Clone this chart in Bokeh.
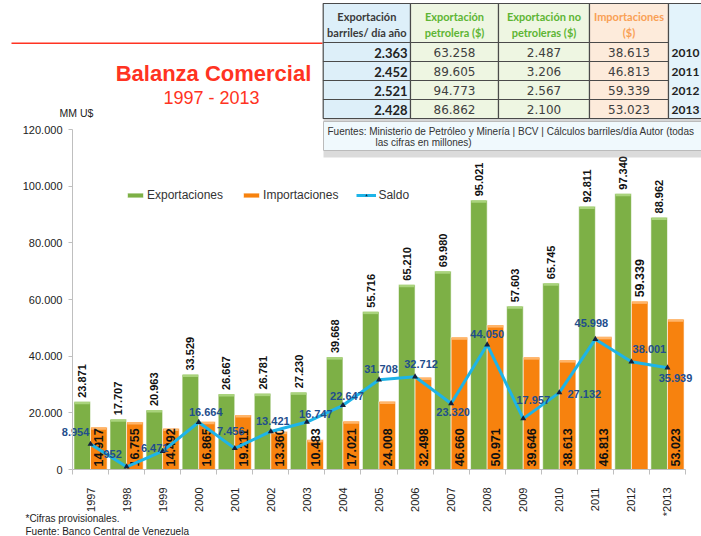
import math
from bokeh.plotting import figure
from bokeh.models import (ColumnDataSource, Label, BoxAnnotation, FixedTicker,
                          Legend, LegendItem)
from bokeh.core.properties import value
from bokeh.transform import dodge
from bokeh.embed import file_html
from bokeh.resources import INLINE

# ---------------- data ----------------
years = ["1997", "1998", "1999", "2000", "2001", "2002", "2003", "2004", "2005",
         "2006", "2007", "2008", "2009", "2010", "2011", "2012", "*2013"]
exportaciones = [23871, 17707, 20963, 33529, 26667, 26781, 27230, 39668, 55716,
                 65210, 69980, 95021, 57603, 65745, 92811, 97340, 88962]
importaciones = [14917, 16755, 14492, 16865, 19211, 13360, 10483, 17021, 24008,
                 32498, 46660, 50971, 39646, 38613, 46813, 59339, 53023]
saldo = [8954, 952, 6471, 16664, 7456, 13421, 16747, 22647, 31708,
         32712, 23320, 44050, 17957, 27132, 45998, 38001, 35939]
y_ticks = [0, 20000, 40000, 60000, 80000, 100000, 120000]

tabla_encabezados = [("Exportación", "barriles/ día año"),
                     ("Exportación", "petrolera ($)"),
                     ("Exportación no", "petroleras ($)"),
                     ("Importaciones", "($)")]
tabla_anios = ["2010", "2011", "2012", "2013"]
tabla_barriles = ["2.363", "2.452", "2.521", "2.428"]
tabla_petrolera = ["63.258", "89.605", "94.773", "86.862"]
tabla_no_petrolera = ["2.487", "3.206", "2.567", "2.100"]
tabla_importaciones = ["38.613", "46.813", "59.339", "53.023"]

# ---------------- styles / layout ----------------
sal_dx = [-15, -14, -8, 7, -4, 2, 9, 4, 2, 6, 2, 0, 10, 25, -4, 18, 8]
sal_dy = [-12, -13, -3, -10, -17, -10, -8, -9, -11, -13, 9, -11, -19, 1, -16, -13, 10]
imp_label_above = [False] * 15 + [True, False]

GREEN = "#7DB046"
GREEN_CAP = "#A9D37C"
ORANGE = "#F7820E"
ORANGE_CAP = "#FFB56A"
CYAN = "#1DB4E8"
NAVY = "#1F4E8C"
RED = "#FF3322"
FONT = "Liberation Sans"

W, H = 701, 536
# pixel geometry of the plotting area inside the canvas
AX_LEFT, AX_RIGHT, AX_BOTTOM, AX_TOP = 72, 685, 469, 129


def fmt(v):
    return f"{v:,}".replace(",", ".")


n = len(years)
xs = list(range(n))
x0, x1 = -0.5, n - 0.5
y0, y1 = y_ticks[0], y_ticks[-1]
ppx = (AX_RIGHT - AX_LEFT) / (x1 - x0)
ppy = (AX_BOTTOM - AX_TOP) / (y1 - y0)
x_range = (x0 - AX_LEFT / ppx, x1 + (W - AX_RIGHT) / ppx)
y_range = (y0 - (H - AX_BOTTOM) / ppy, y1 + AX_TOP / ppy)

src = ColumnDataSource(dict(
    x=xs,
    exp=exportaciones,
    imp=importaciones,
    sal=saldo,
    exp_cap=[v - 2.5 / ppy for v in exportaciones],
    imp_cap=[v - 2.5 / ppy for v in importaciones],
    exp_lbl=[fmt(v) for v in exportaciones],
    imp_lbl=[fmt(v) for v in importaciones],
    imp_lbl_y=[v if a else 0 for v, a in zip(importaciones, imp_label_above)],
    imp_off=[-4 if a else -3 for a in imp_label_above],
    sal_lbl=[fmt(v) for v in saldo],
    sdx=sal_dx,
    sdy=sal_dy,
))

p = figure(width=W, height=H, x_range=x_range, y_range=y_range,
           output_backend="svg", toolbar_location=None,
           min_border=0, min_border_left=0, min_border_right=0,
           min_border_top=0, min_border_bottom=0)
p.outline_line_color = None
p.xgrid.visible = False
p.ygrid.visible = False
p.background_fill_color = "white"
p.border_fill_color = "white"

# axes (drawn at fixed data locations inside the canvas)
yax = p.yaxis[0]
yax.fixed_location = x0
yax.bounds = (y0, y1)
yax.ticker = FixedTicker(ticks=y_ticks, minor_ticks=[])
yax.major_label_overrides = {t: fmt(t) for t in y_ticks}
yax.axis_line_color = "#BFBFBF"
yax.major_tick_line_color = "#BFBFBF"
yax.major_tick_out = 4
yax.major_tick_in = 0
yax.minor_tick_line_color = None
yax.major_label_standoff = 6
yax.major_label_text_font = FONT
yax.major_label_text_font_size = "11px"
yax.major_label_text_color = "#222222"

xax = p.xaxis[0]
xax.fixed_location = y0
xax.bounds = (x0, x1)
xax.ticker = FixedTicker(ticks=xs, minor_ticks=[i - 0.5 for i in range(n + 1)])
xax.major_label_overrides = {i: years[i] for i in xs}
xax.major_label_orientation = math.pi / 2
xax.axis_line_color = "#BFBFBF"
xax.major_tick_line_color = None
xax.major_tick_out = 0
xax.major_tick_in = 0
xax.minor_tick_line_color = "#BFBFBF"
xax.minor_tick_out = 5
xax.minor_tick_in = 0
xax.major_label_standoff = 13
xax.major_label_text_font = FONT
xax.major_label_text_font_size = "11px"
xax.major_label_text_color = "#222222"

# bars
gx = dodge("x", -0.23, range=p.x_range)
ox = dodge("x", 0.23, range=p.x_range)
r_exp = p.vbar(x=gx, top="exp", width=0.46, source=src, fill_color=GREEN,
               line_color="white", line_width=0.6)
p.vbar(x=gx, top="exp", bottom="exp_cap", width=0.42, source=src,
       fill_color=GREEN_CAP, line_color=None)
r_imp = p.vbar(x=ox, top="imp", width=0.46, source=src, fill_color=ORANGE,
               line_color="white", line_width=0.6)
p.vbar(x=ox, top="imp", bottom="imp_cap", width=0.42, source=src,
       fill_color=ORANGE_CAP, line_color=None)

# import labels
p.text(x=ox, y="imp_lbl_y", text="imp_lbl", source=src, angle=math.pi / 2,
       y_offset="imp_off", text_align="left", text_baseline="middle",
       text_font=value(FONT), text_font_style="bold", text_font_size="12.5px",
       text_color="#111111")

# saldo line
r_line = p.line(x="x", y="sal", source=src, line_color=CYAN, line_width=3)
r_mark = p.scatter(x="x", y="sal", source=src, marker="triangle", size=6,
                   fill_color="#14213D", line_color=None)
p.text(x="x", y="sal", text="sal_lbl", source=src, x_offset="sdx",
       y_offset="sdy", text_align="center", text_baseline="middle",
       text_font=value(FONT), text_font_style="bold", text_font_size="11px",
       text_color=NAVY)

# export labels
p.text(x=gx, y="exp", text="exp_lbl", source=src, angle=math.pi / 2,
       y_offset=-4, text_align="left", text_baseline="middle",
       text_font=value(FONT), text_font_style="bold", text_font_size="11px",
       text_color="#111111")

# legend
legend = Legend(items=[
    LegendItem(label="Exportaciones", renderers=[r_exp]),
    LegendItem(label="Importaciones", renderers=[r_imp]),
    LegendItem(label="Saldo", renderers=[r_line, r_mark]),
], orientation="horizontal", location=(125, H - 202), padding=0, margin=0,
    spacing=18, label_standoff=2, glyph_width=20, glyph_height=6,
    label_height=14, border_line_color=None, background_fill_alpha=0,
    label_text_font=FONT, label_text_font_size="12px",
    label_text_color="#333333")
p.add_layout(legend)


# ---------------- page decorations (screen units; frame == canvas) -------
def sx(px):
    return px


def sy(py):
    return H - py


def box(l, r, t, b, fill, line=None, lw=1, alpha=1.0):
    p.add_layout(BoxAnnotation(left=sx(l), right=sx(r), top=sy(t), bottom=sy(b),
                               left_units="screen", right_units="screen",
                               top_units="screen", bottom_units="screen",
                               fill_color=fill, fill_alpha=alpha,
                               line_color=line, line_width=lw,
                               line_alpha=1.0 if line else 0))


def label(px, py, text, size, color="#222222", font=FONT, style="normal",
          align="left", baseline="middle"):
    p.add_layout(Label(x=sx(px), y=sy(py), x_units="screen", y_units="screen",
                       text=text, text_font=font, text_font_size=size,
                       text_font_style=style, text_color=color,
                       text_align=align, text_baseline=baseline))


# red rule and title
box(11, 322, 42, 43.5, RED)
label(213, 73, "Balanza Comercial", "22px", RED, style="bold", align="center",
      baseline="alphabetic")
label(211, 97, "1997 - 2013", "18px", RED, align="center", baseline="alphabetic")
label(59, 112, "MM U$", "10.5px", "#222222")

# table
col_x = [322.7, 410, 498, 589, 668, 720]
row_y = [3, 42, 61, 80, 99, 118]
col_fill = ["#DDEFF9", "#EEF6E2", "#EEF6E2", "#FDEBDB"]
box(323, 720, 118, 122, "#888888", alpha=0.35)
for c in range(4):
    for r in range(5):
        box(col_x[c], col_x[c + 1], row_y[r], row_y[r + 1], col_fill[c],
            line="#4A4A4A", lw=1.2)
box(col_x[4], col_x[5], row_y[0], row_y[5], "#E3F3FB", line="#4A4A4A", lw=1.2)

head_colors = ["#3A3A3A", "#5DB534", "#5DB534", "#F9A055"]
for c, (l1, l2) in enumerate(tabla_encabezados):
    cx = (col_x[c] + col_x[c + 1]) / 2
    label(cx, 16, l1, "11px", head_colors[c], font="Lato", style="bold",
          align="center")
    label(cx, 32, l2, "11px", head_colors[c], font="Lato", style="bold",
          align="center")

row_c = [(row_y[i] + row_y[i + 1]) / 2 + 0.5 for i in range(1, 5)]
for i in range(4):
    label(col_x[1] - 3, row_c[i], tabla_barriles[i], "13px", "#222222",
          font="Lato", style="bold", align="right")
    for c, vals in zip([1, 2, 3], [tabla_petrolera, tabla_no_petrolera,
                                   tabla_importaciones]):
        cx = (col_x[c] + col_x[c + 1]) / 2
        label(cx, row_c[i], vals[i], "12px", "#404040", font="DejaVu Sans",
              align="center")
    label(col_x[4] + 3, row_c[i], tabla_anios[i], "12px", "#222222",
          font="Lato", style="bold")

# sources box
box(323, 720, 150, 157, "#999999", alpha=0.35)
box(323, 720, 121, 150, "#F0F9FD", line="#BBBBBB", lw=1)
label(327, 131, "Fuentes: Ministerio de Petróleo y Minería | BCV | Cálculos "
      "barriles/día Autor  (todas", "10px", "#333333")
label(375, 142, "las cifras en millones)", "10px", "#333333")

# footer
label(25, 518, "*Cifras provisionales.", "10px", "#222222")
label(25, 531, "Fuente: Banco Central de Venezuela", "10px", "#222222")

open("out.html", "w").write(file_html(p, INLINE))
